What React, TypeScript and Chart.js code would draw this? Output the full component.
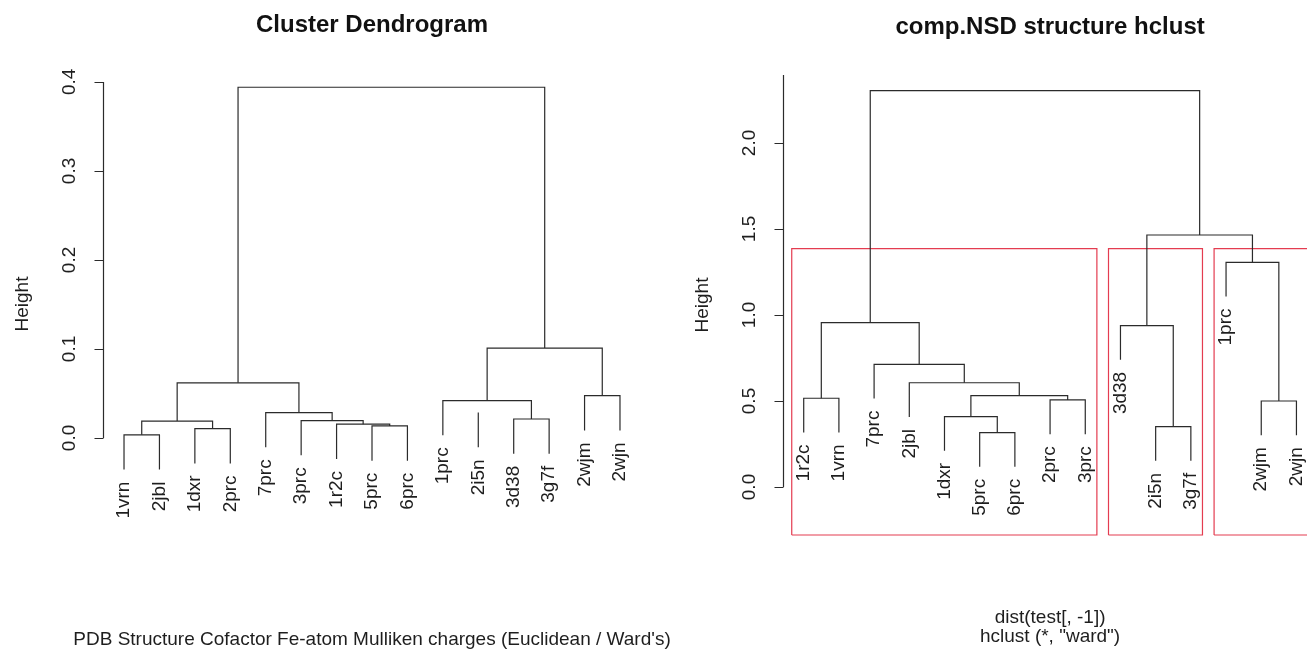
import React, { useEffect, useRef } from "react";
import { Chart, registerables } from "chart.js";

Chart.register(...registerables);

// ---------- Left panel data (Cluster Dendrogram) ----------
const leftLeaves = ["1vrn", "2jbl", "1dxr", "2prc", "7prc", "3prc", "1r2c", "5prc", "6prc", "1prc", "2i5n", "3d38", "3g7f", "2wjm", "2wjn"];
// merge pairs (negative = leaf position, positive = earlier merge number)
const leftMergeA = [-1, -3, -8, -7, 1, -6, -12, -5, -11, -10, -14, 5, 10, 12];
const leftMergeB = [-2, -4, -9, 3, 2, 4, -13, 6, 9, 7, -15, 8, 11, 13];
const leftHeights = [0.0035, 0.0105, 0.0135, 0.0155, 0.019, 0.0195, 0.0213, 0.0285, 0.0285, 0.042, 0.0475, 0.062, 0.101, 0.394];
const leftTicks = [0, 0.1, 0.2, 0.3, 0.4];

// ---------- Right panel data (comp.NSD structure hclust) ----------
const rightLeaves = ["1r2c", "1vrn", "7prc", "2jbl", "1dxr", "5prc", "6prc", "2prc", "3prc", "3d38", "2i5n", "3g7f", "1prc", "2wjm", "2wjn"];
const rightMergeA = [-6, -11, -5, -14, -8, -1, 3, -4, -3, -10, 6, -13, 10, 11];
const rightMergeB = [-7, -12, 1, -15, -9, -2, 5, 7, 8, 2, 9, 4, 12, 13];
const rightHeights = [0.316, 0.351, 0.409, 0.5, 0.506, 0.516, 0.531, 0.606, 0.713, 0.938, 0.955, 1.306, 1.465, 2.304];
const rightTicks = [0, 0.5, 1.0, 1.5, 2.0, 2.5];
const rightClusterSizes = [9, 3, 3]; // rect.hclust(k = 3)

const FONT = "'Liberation Sans', Arial, Helvetica, sans-serif";
const LINE = "#2b2b2b";
const TEXT = "#1e1e1e";
const RED = "rgb(228,60,80)";
const BASE = 19;
const TITLE = 24;

type Panel = {
  title: string;
  leaves: string[];
  mergeA: number[];
  mergeB: number[];
  heights: number[];
  ticks: number[];
  xlab: string;
  sub: string;
  subOffset: number;
  clusters?: number[];
  xMin: number;
  xMax: number;
  yMin: number;
  yMax: number;
  padding: { left: number; right: number; top: number; bottom: number };
  left: number;
  width: number;
};

function buildTree(p: Panel) {
  const n = p.leaves.length;
  const hang = 0.1 * (Math.max(...p.heights) - Math.min(...p.heights));
  const nodeX: number[] = [];
  const segs: { x: number; y: number }[][] = [];
  const leafBottoms: number[] = new Array(n).fill(0);
  const child = (c: number, h: number) => {
    if (c < 0) {
      const y = h - hang;
      leafBottoms[-c - 1] = y;
      return { x: -c, y };
    }
    return { x: nodeX[c - 1], y: p.heights[c - 1] };
  };
  for (let i = 0; i < p.heights.length; i++) {
    const h = p.heights[i];
    const a = child(p.mergeA[i], h);
    const b = child(p.mergeB[i], h);
    nodeX[i] = (a.x + b.x) / 2;
    segs.push([
      { x: a.x, y: a.y },
      { x: a.x, y: h },
      { x: b.x, y: h },
      { x: b.x, y: b.y },
    ]);
  }
  return { segs, leafBottoms };
}

function Dendro({ panel }: { panel: Panel }) {
  const ref = useRef<HTMLCanvasElement>(null);
  useEffect(() => {
    if (!ref.current) return;
    const { segs, leafBottoms } = buildTree(panel);
    const datasets: any[] = segs.map((s) => ({
      data: s,
      showLine: true,
      borderColor: LINE,
      borderWidth: 1.2,
      pointRadius: 0,
      clip: false,
      tension: 0,
    }));
    if (panel.clusters) {
      const hs = panel.heights;
      const k = panel.clusters.length;
      const top = (hs[hs.length - (k - 1)] + hs[hs.length - k]) / 2;
      let start = 0;
      panel.clusters.forEach((size) => {
        const x0 = start + 0.66;
        const x1 = start + size + 0.33;
        datasets.push({
          data: [
            { x: x0, y: panel.yMin },
            { x: x0, y: top },
            { x: x1, y: top },
            { x: x1, y: panel.yMin },
            { x: x0, y: panel.yMin },
          ],
          showLine: true,
          borderColor: RED,
          borderWidth: 1.2,
          pointRadius: 0,
          clip: false,
          tension: 0,
        });
        start += size;
      });
    }

    const plugin = {
      id: "rDecor",
      afterDraw(chart: any) {
        const ctx = chart.ctx as CanvasRenderingContext2D;
        const xs = chart.scales.x;
        const ys = chart.scales.y;
        const area = chart.chartArea;
        ctx.save();
        const ax = Math.round(area.left) - 0.5;
        // axis
        const vis = panel.ticks.filter((t) => t >= ys.min && t <= ys.max);
        const all = panel.ticks;
        const yA = ys.getPixelForValue(all[0]);
        const yB = Math.max(ys.getPixelForValue(all[all.length - 1]), area.top);
        ctx.strokeStyle = LINE;
        ctx.lineWidth = 1.2;
        ctx.beginPath();
        ctx.moveTo(ax, yA);
        ctx.lineTo(ax, yB);
        vis.forEach((t) => {
          const py = Math.round(ys.getPixelForValue(t)) + 0.5;
          ctx.moveTo(ax, py);
          ctx.lineTo(ax - 9, py);
        });
        ctx.stroke();
        ctx.fillStyle = TEXT;
        ctx.font = `${BASE}px ${FONT}`;
        ctx.textAlign = "center";
        ctx.textBaseline = "middle";
        vis.forEach((t) => {
          const py = ys.getPixelForValue(t);
          ctx.save();
          ctx.translate(ax - 34, py);
          ctx.rotate(-Math.PI / 2);
          ctx.fillText(t.toFixed(1), 0, 0);
          ctx.restore();
        });
        // y title
        ctx.save();
        ctx.translate(ax - 81, (area.top + area.bottom) / 2);
        ctx.rotate(-Math.PI / 2);
        ctx.fillText("Height", 0, 0);
        ctx.restore();
        // leaf labels
        ctx.textAlign = "right";
        panel.leaves.forEach((lab, i) => {
          const px = xs.getPixelForValue(i + 1);
          const py = ys.getPixelForValue(leafBottoms[i]) + 12;
          ctx.save();
          ctx.translate(px, py);
          ctx.rotate(-Math.PI / 2);
          ctx.fillText(lab, 0, 0);
          ctx.restore();
        });
        // titles
        const cx = xs.getPixelForValue((panel.leaves.length + 1) / 2);
        ctx.textAlign = "center";
        ctx.fillStyle = "#111";
        ctx.font = `bold ${TITLE}px ${FONT}`;
        ctx.fillText(panel.title, cx, area.top - 48);
        ctx.fillStyle = TEXT;
        ctx.font = `${BASE}px ${FONT}`;
        if (panel.xlab) ctx.fillText(panel.xlab, cx, area.bottom + 83);
        if (panel.sub) ctx.fillText(panel.sub, cx, area.bottom + panel.subOffset);
        ctx.restore();
      },
    };

    const chart = new Chart(ref.current, {
      type: "scatter",
      data: { datasets },
      options: {
        animation: false,
        responsive: false,
        devicePixelRatio: 1,
        events: [],
        layout: { padding: panel.padding },
        plugins: {
          legend: { display: false },
          tooltip: { enabled: false },
          title: { display: false },
        },
        scales: {
          x: { type: "linear", min: panel.xMin, max: panel.xMax, display: false },
          y: { type: "linear", min: panel.yMin, max: panel.yMax, display: false },
        },
      },
      plugins: [plugin],
    } as any);
    return () => chart.destroy();
  }, [panel]);
  return (
    <canvas
      ref={ref}
      width={panel.width}
      height={652}
      style={{
        display: "block",
        position: "absolute",
        left: panel.left,
        top: 0,
        width: panel.width,
        height: 652,
      }}
    />
  );
}

const leftPanel: Panel = {
  title: "Cluster Dendrogram",
  leaves: leftLeaves,
  mergeA: leftMergeA,
  mergeB: leftMergeB,
  heights: leftHeights,
  ticks: leftTicks,
  xlab: "",
  sub: "PDB Structure Cofactor Fe-atom Mulliken charges (Euclidean / Ward's)",
  subOffset: 105,
  xMin: 0.435,
  xMax: 15.565,
  yMin: -0.109,
  yMax: 0.41,
  padding: { left: 104, right: 80, top: 73, bottom: 117 },
  left: 0,
  width: 720,
};

const rightPanel: Panel = {
  title: "comp.NSD structure hclust",
  leaves: rightLeaves,
  mergeA: rightMergeA,
  mergeB: rightMergeB,
  heights: rightHeights,
  ticks: rightTicks,
  xlab: "dist(test[, -1])",
  sub: 'hclust (*, "ward")',
  subOffset: 102,
  clusters: rightClusterSizes,
  xMin: 0.44,
  xMax: 15.3,
  yMin: -0.279,
  yMax: 2.395,
  padding: { left: 131, right: 0, top: 75, bottom: 117 },
  left: 653,
  width: 654,
};

export default function App() {
  useEffect(() => {
    document.body.style.margin = "0";
  }, []);
  return (
    <div
      style={{
        position: "fixed",
        left: 0,
        top: 0,
        width: 1307,
        height: 652,
        background: "#fff",
        overflow: "hidden",
      }}
    >
      <Dendro panel={leftPanel} />
      <Dendro panel={rightPanel} />
    </div>
  );
}
